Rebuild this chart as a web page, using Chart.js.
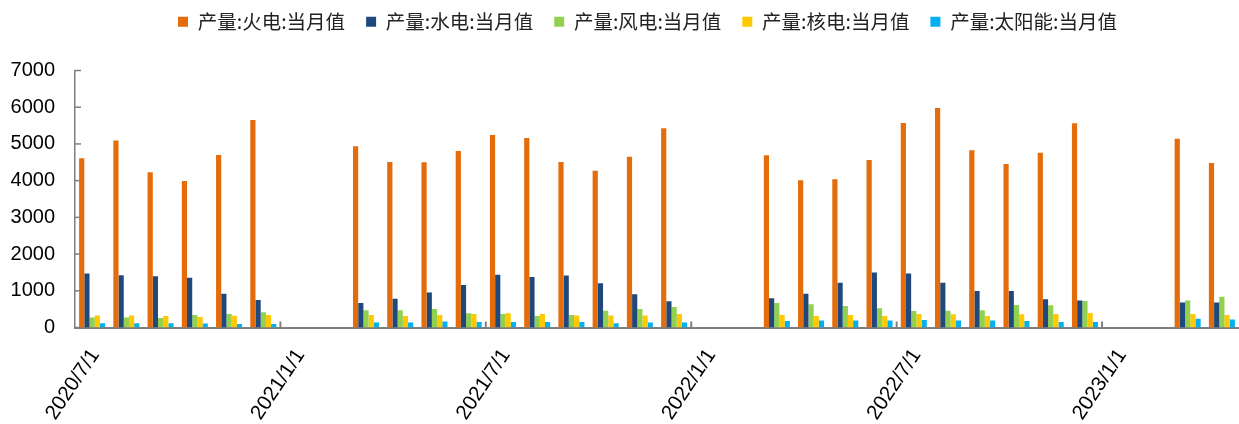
<!DOCTYPE html>
<html><head><meta charset="utf-8">
<script src="https://cdn.jsdelivr.net/npm/chart.js@4"></script>
<style>html,body{margin:0;padding:0;background:#fff}#wrap{width:1239px;height:424px;position:relative}</style>
</head><body><div id="wrap"><canvas id="c" width="1239" height="424"></canvas></div>
<script>
const categories = ['2020/7/1','2020/8/1','2020/9/1','2020/10/1','2020/11/1','2020/12/1',
  '2021/1/1','2021/2/1','2021/3/1','2021/4/1','2021/5/1','2021/6/1','2021/7/1','2021/8/1','2021/9/1','2021/10/1','2021/11/1','2021/12/1',
  '2022/1/1','2022/2/1','2022/3/1','2022/4/1','2022/5/1','2022/6/1','2022/7/1','2022/8/1','2022/9/1','2022/10/1','2022/11/1','2022/12/1',
  '2023/1/1','2023/2/1','2023/3/1','2023/4/1'];
const seriesNames = ['产量:火电:当月值','产量:水电:当月值','产量:风电:当月值','产量:核电:当月值','产量:太阳能:当月值'];
const thermal = [4610,5090,4230,3990,4700,5655,null,null,4940,4510,4500,4810,5240,5160,4510,4270,4650,5430,null,null,4690,4010,4040,4560,5570,5980,4830,4450,4760,5560,null,null,5140,4480];
const hydro   = [1468,1422,1394,1358,917,752,null,null,670,780,954,1156,1440,1376,1413,1202,908,716,null,null,798,917,1220,1495,1468,1220,991,991,771,734,null,null,679,679];
const wind    = [275,275,257,339,367,413,null,null,468,468,505,385,367,312,339,459,505,560,null,null,670,633,587,523,450,459,468,615,606,725,null,null,734,835];
const nuclear = [330,330,312,284,321,339,null,null,339,312,339,367,385,367,330,330,330,367,null,null,339,312,339,312,367,358,312,358,367,394,null,null,367,339];
const solar   = [119,119,119,110,92,92,null,null,138,138,165,147,147,147,147,119,138,138,null,null,174,193,193,193,202,193,193,174,147,147,null,null,239,220];
const yTicks = [0,1000,2000,3000,4000,5000,6000,7000];
const colors = ['#E46C0A','#1F497D','#92D050','#FFC800','#00B0F0'];

const innerTicks = {
  id:'innerTicks',
  beforeInit(chart){
    const lg = chart.legend;
    if (lg) {
      const origFit = lg.fit;
      lg.fit = function(){ origFit.call(this); this.height = 67.5; };
    }
  },
  afterLayout(chart){
    const lg = chart.legend;
    if (lg) { lg.left += 24; lg.right += 24; lg.top -= 12; lg.bottom -= 12; }
  },
  beforeDatasetsDraw(chart){
    const {ctx, scales:{x,y}, chartArea:a} = chart;
    ctx.save();
    ctx.strokeStyle = '#7f7f7f';
    const step = x.getPixelForValue(1) - x.getPixelForValue(0);
    ctx.lineWidth = 2;
    for (let i = 6; i < categories.length; i += 6) {
      const px = x.getPixelForValue(i) - step/2;
      ctx.beginPath(); ctx.moveTo(px, a.bottom); ctx.lineTo(px, a.bottom - 6); ctx.stroke();
    }
    ctx.lineWidth = 1.5;
    yTicks.forEach(v => {
      const py = y.getPixelForValue(v);
      ctx.beginPath(); ctx.moveTo(a.left, py); ctx.lineTo(a.left + 6, py); ctx.stroke();
    });
    ctx.restore();
  }
};

const seriesData = [thermal, hydro, wind, nuclear, solar];
new Chart(document.getElementById('c'), {
  type:'bar',
  data:{
    labels: categories,
    datasets: seriesNames.map((n,i)=>({label:n, data:seriesData[i], backgroundColor:colors[i], borderWidth:0,
      categoryPercentage:0.76, barPercentage:1.0}))
  },
  options:{
    responsive:false, animation:false, devicePixelRatio:1,
    layout:{padding:{left:8,right:0,top:3,bottom:0}},
    plugins:{
      legend:{position:'top', labels:{boxWidth:10, boxHeight:10, padding:21, color:'#222',
        font:{family:'"Noto Sans CJK SC", sans-serif', size:19.5}}},
      tooltip:{enabled:false}
    },
    scales:{
      x:{type:'category', offset:true,
        grid:{display:false, drawTicks:false, offset:true},
        border:{display:true, color:'#7f7f7f', width:2},
        afterFit(s){ s.height = 96.5; s.paddingRight = 0; s.paddingLeft = 0; },
        ticks:{autoSkip:false, maxRotation:56, minRotation:56, padding:17, labelOffset:3, color:'#000',
          font:{family:'Arial, "Liberation Sans", sans-serif', size:20.5},
          callback:function(v,i){ return i % 6 === 0 ? categories[i] : ''; }}
      },
      y:{min:0, max:7000,
        grid:{display:false, drawTicks:false},
        border:{display:true, color:'#7f7f7f', width:1.5},
        afterFit(s){ s.width = 67; },
        afterBuildTicks(s){ s.ticks = yTicks.map(v=>({value:v})); },
        ticks:{padding:20, color:'#000', font:{family:'Arial, "Liberation Sans", sans-serif', size:20},
          callback:(v)=>String(v)}
      }
    }
  },
  plugins:[innerTicks]
});
</script></body></html>
